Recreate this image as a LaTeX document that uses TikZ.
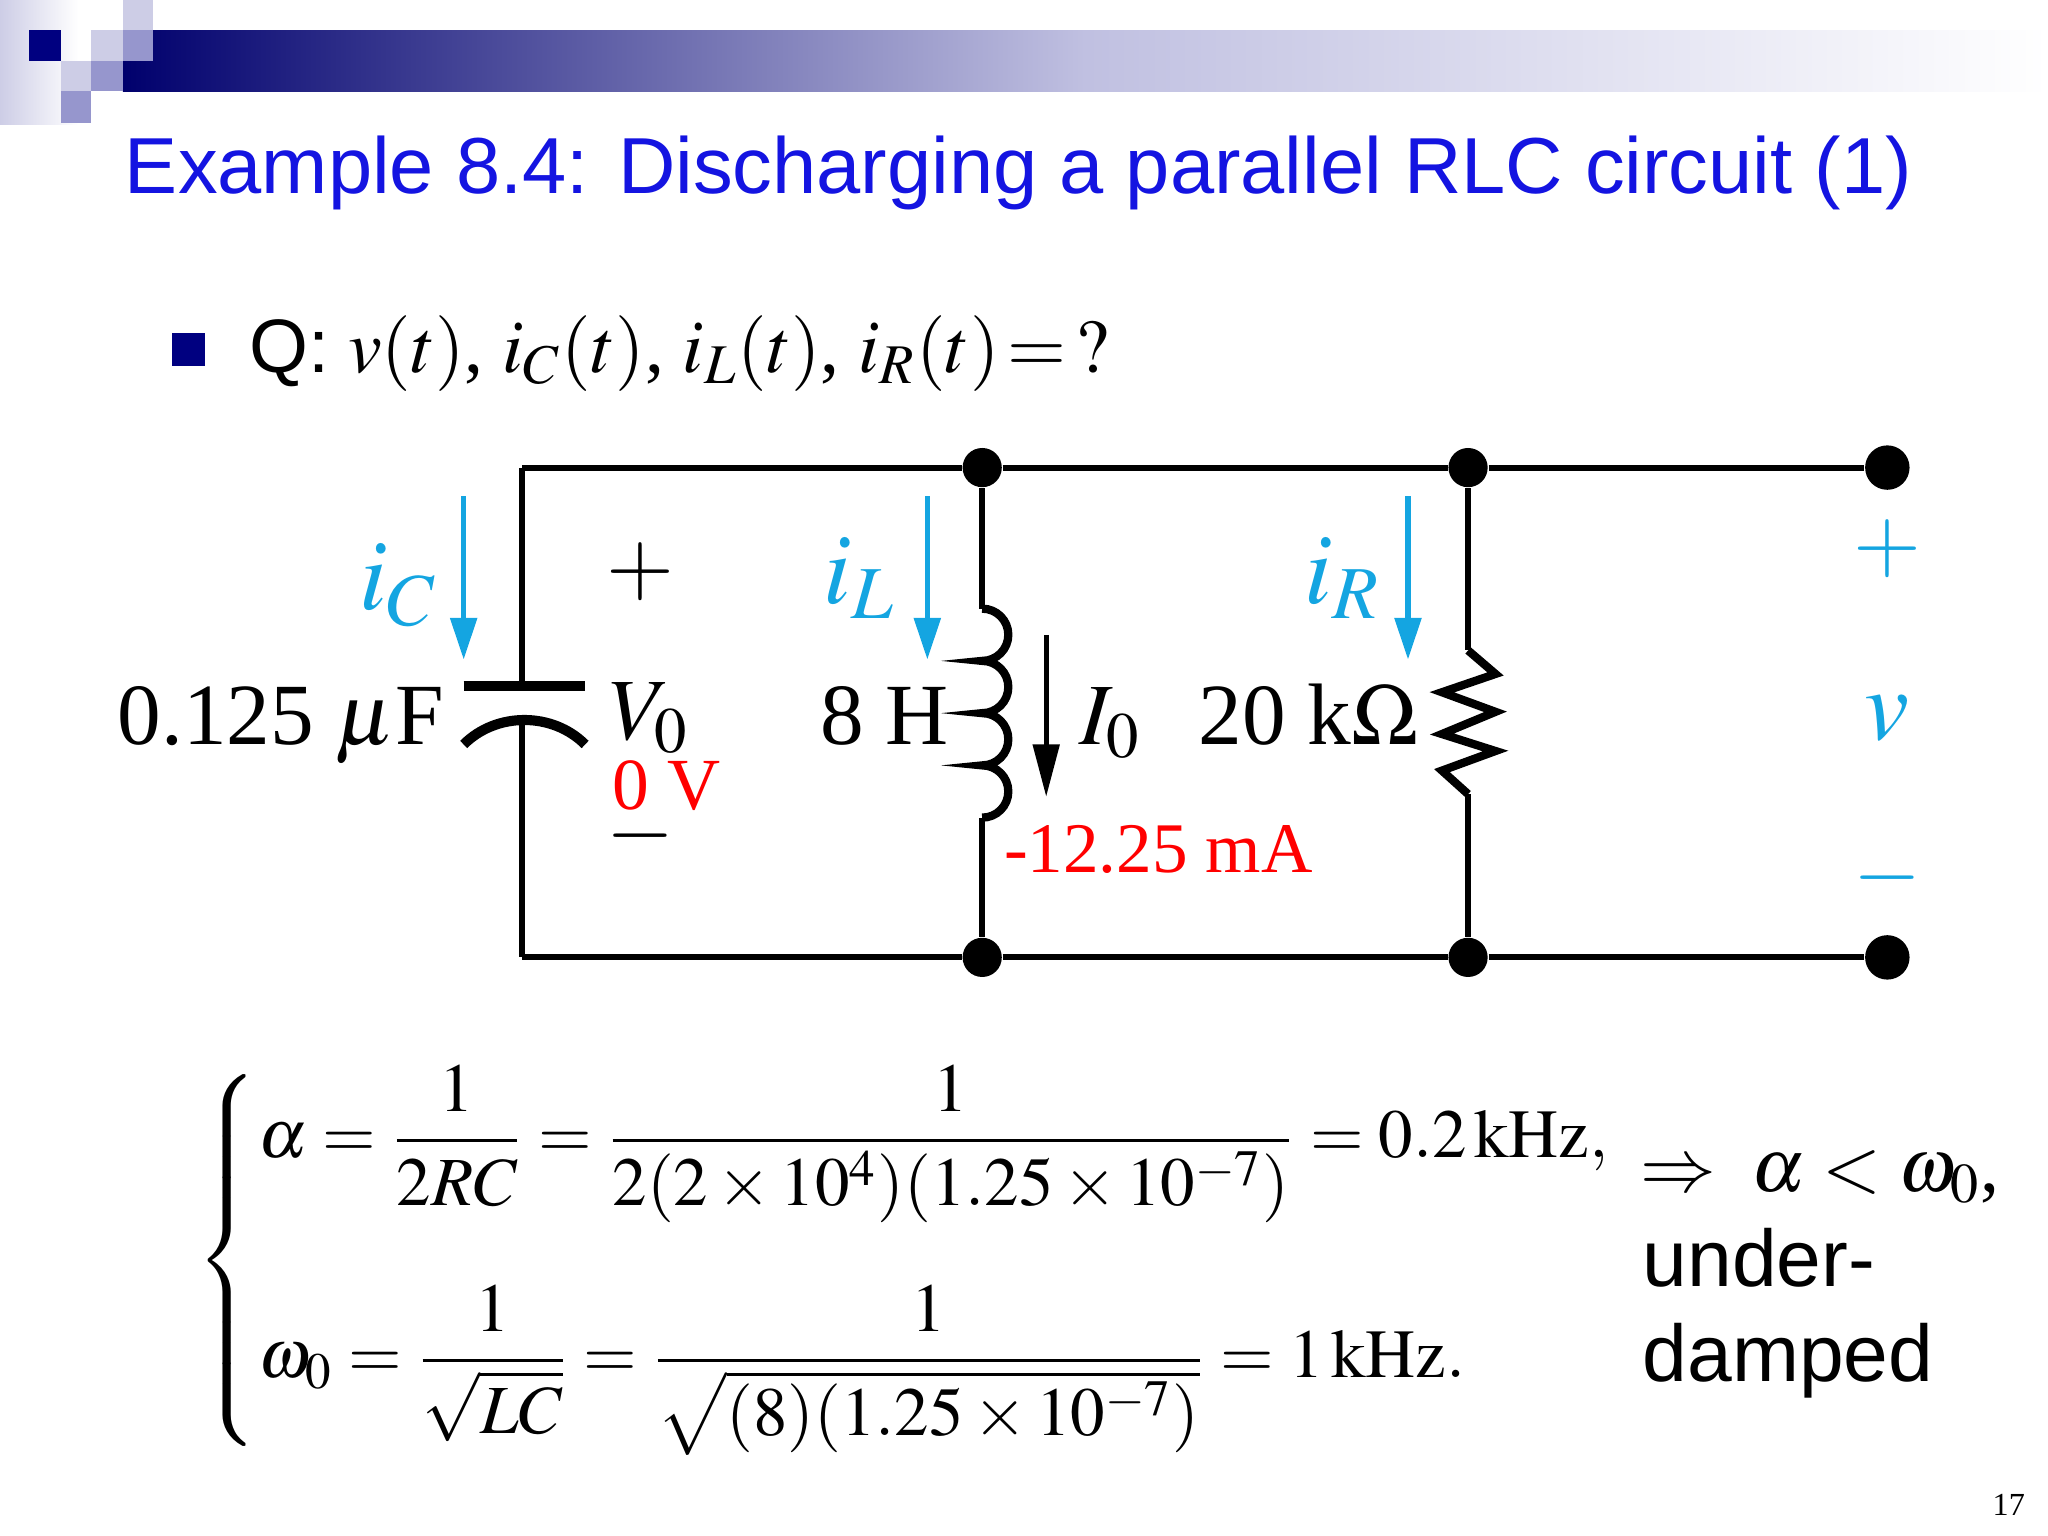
\documentclass[tikz,border=0pt]{standalone}
\usepackage{amsmath}
\usepackage{mathptmx}
\usepackage{fontspec}
\setmainfont{Liberation Serif}
\newfontfamily\sans{Liberation Sans}
\usetikzlibrary{arrows.meta}
\definecolor{ttl}{RGB}{20,20,225}
\definecolor{cy}{RGB}{20,165,225}
\definecolor{nv}{RGB}{0,0,128}
\definecolor{lv}{RGB}{205,205,230}
\definecolor{mv}{RGB}{150,150,205}
\tikzset{wire/.style={line width=1.3pt,black},
 dotn/.style={circle,fill=black,inner sep=0pt,minimum size=0.3cm},
 term/.style={circle,fill=black,inner sep=0pt,minimum size=0.34cm},
 lbl/.style={inner sep=0pt,font=\fontsize{19}{22}\selectfont},
 cyarr/.style={cy,line width=1.2pt,-{Triangle[length=0.32cm,width=0.2cm]}}}
\begin{document}
\begin{tikzpicture}[x=0.01cm,y=-0.01cm]
\useasboundingbox (0,0) rectangle (1568,1176);
% decoration
\shade[left color=lv,right color=white] (0,0) rectangle (60,95);
\shade[left color=nv!85!black,right color=white,middle color=mv!60!white] (94,23) rectangle (1568,70);
\fill[nv] (22,23) rectangle (47,47);
\fill[lv] (94,0) rectangle (117,23);
\fill[lv] (70,23) rectangle (94,47);
\fill[mv] (94,23) rectangle (117,47);
\fill[lv] (47,47) rectangle (70,70);
\fill[mv] (70,47) rectangle (94,70);
\fill[mv] (47,70) rectangle (70,94);
% title
\node[anchor=base west,inner sep=0pt,text=ttl,font=\sans\fontsize{17.3}{20}\selectfont] (title) at (95,148) {Example 8.4: Discharging a parallel RLC circuit (1)};
\fill[nv] (132,255) rectangle (157,280);
\node[anchor=base west,inner sep=0pt,font=\fontsize{16.5}{20}\selectfont] (q) at (190,285) {{\sans Q:} $v(t)$, $i_C(t)$, $i_L(t)$, $i_R(t)\!=\,?$};
% circuit nodes
\coordinate (tl) at (400,358); \coordinate (bl) at (400,733);
\node[dotn] (t1) at (752,358) {}; \node[dotn] (t2) at (1124,358) {};
\node[dotn] (b1) at (752,733) {}; \node[dotn] (b2) at (1124,733) {};
\node[term] (tp) at (1445,358) {}; \node[term] (tm) at (1445,733) {};
\draw[wire] (tl) -- (t1) -- (t2) -- (tp);
\draw[wire] (bl) -- (b1) -- (b2) -- (tm);
% capacitor
\coordinate (c1) at (400,525); \coordinate (c2) at (400,548);
\draw[wire] (tl) -- (c1); \draw[wire] (c2) -- (bl);
\draw[line width=2.2pt] (355,525) -- (448,525);
\draw[line width=2.2pt] (355,570) .. controls (380,545) and (423,545) .. (448,570);
% inductor
\coordinate (l1) at (752,466); \coordinate (l2) at (752,626);
\draw[wire] (t1) -- (l1); \draw[wire] (l2) -- (b1);
\draw[line width=1.8pt] (l1) arc[start angle=-90,end angle=90,radius=20]
 arc[start angle=-90,end angle=90,radius=20]
 arc[start angle=-90,end angle=90,radius=20]
 arc[start angle=-90,end angle=90,radius=20];
% resistor
\coordinate (r1) at (1124,498); \coordinate (r2) at (1124,608);
\draw[wire] (t2) -- (r1); \draw[wire] (r2) -- (b2);
\draw[line width=1.8pt,line join=miter] (r1) -- (1145,516) -- (1104,530) -- (1145,545) -- (1104,562) -- (1145,575) -- (1104,590) -- (r2);
% current arrows
\coordinate (a1) at (355,380); \coordinate (a2) at (355,505); \draw[cyarr] (a1) -- (a2);
\coordinate (a3) at (710,380); \coordinate (a4) at (710,505); \draw[cyarr] (a3) -- (a4);
\coordinate (a5) at (1078,380); \coordinate (a6) at (1078,505); \draw[cyarr] (a5) -- (a6);
\coordinate (i1) at (801,486); \coordinate (i2) at (801,610);
\draw[line width=1pt,-{Triangle[length=0.4cm,width=0.2cm]}] (i1) -- (i2);
% labels
\node[lbl,text=cy,font=\fontsize{22}{26}\selectfont] (ic) at (305,448) {$i_C$};
\node[lbl,text=cy,font=\fontsize{22}{26}\selectfont] (il) at (658,443) {$i_L$};
\node[lbl,text=cy,font=\fontsize{22}{26}\selectfont] (ir) at (1028,443) {$i_R$};
\node[lbl] (plus) at (490,438) {$+$};
\node[lbl,anchor=base west] (v0) at (466,566) {$V_0$};
\node[lbl,anchor=base west,text=red,font=\fontsize{16}{20}\selectfont] (ov) at (468,620) {0 V};
\node[lbl] (minus) at (490,640) {$-$};
\node[lbl,anchor=base] (cap) at (215,570) {0.125 $\mu$F};
\node[lbl,anchor=base east] (ind) at (727,570) {8 H};
\node[lbl,anchor=base] (i0) at (850,570) {$I_0$};
\node[lbl,anchor=base] (res) at (1002,570) {20 k$\Omega$};
\node[lbl,anchor=base west,text=red,font=\fontsize{15.5}{20}\selectfont] (ma) at (768,668) {-12.25 mA};
\node[lbl,text=cy] (vp) at (1445,420) {$+$};
\node[lbl,text=cy,font=\fontsize{22}{26}\selectfont] (vv) at (1445,550) {$v$};
\node[lbl,text=cy] (vm) at (1445,672) {$-$};
% equations
\node[anchor=west,inner sep=0pt,font=\fontsize{15}{19}\selectfont] (eq) at (150,965) {$\left\{\begin{array}{@{}l@{}}
\alpha=\dfrac{1}{2RC}=\dfrac{1}{2(2\times10^4)(1.25\times10^{-7})}=0.2\,\mathrm{kHz},\\[22pt]
\omega_0=\dfrac{1}{\sqrt{LC}}=\dfrac{1}{\sqrt{(8)(1.25\times10^{-7})}}=1\,\mathrm{kHz}.
\end{array}\right.$};
\node[anchor=base west,inner sep=0pt,font=\fontsize{16.5}{21}\selectfont] (imp) at (1255,912) {$\Rightarrow\ \alpha<\omega_0$,};
\node[anchor=base west,inner sep=0pt,font=\sans\fontsize{17.5}{21}\selectfont] (ud) at (1257,985) {under-};
\node[anchor=base west,inner sep=0pt,font=\sans\fontsize{17.5}{21}\selectfont] (dp) at (1257,1058) {damped};
\node[anchor=base,inner sep=0pt,font=\fontsize{7}{8}\selectfont] (pg) at (1538,1160) {17};
\end{tikzpicture}
\end{document}
